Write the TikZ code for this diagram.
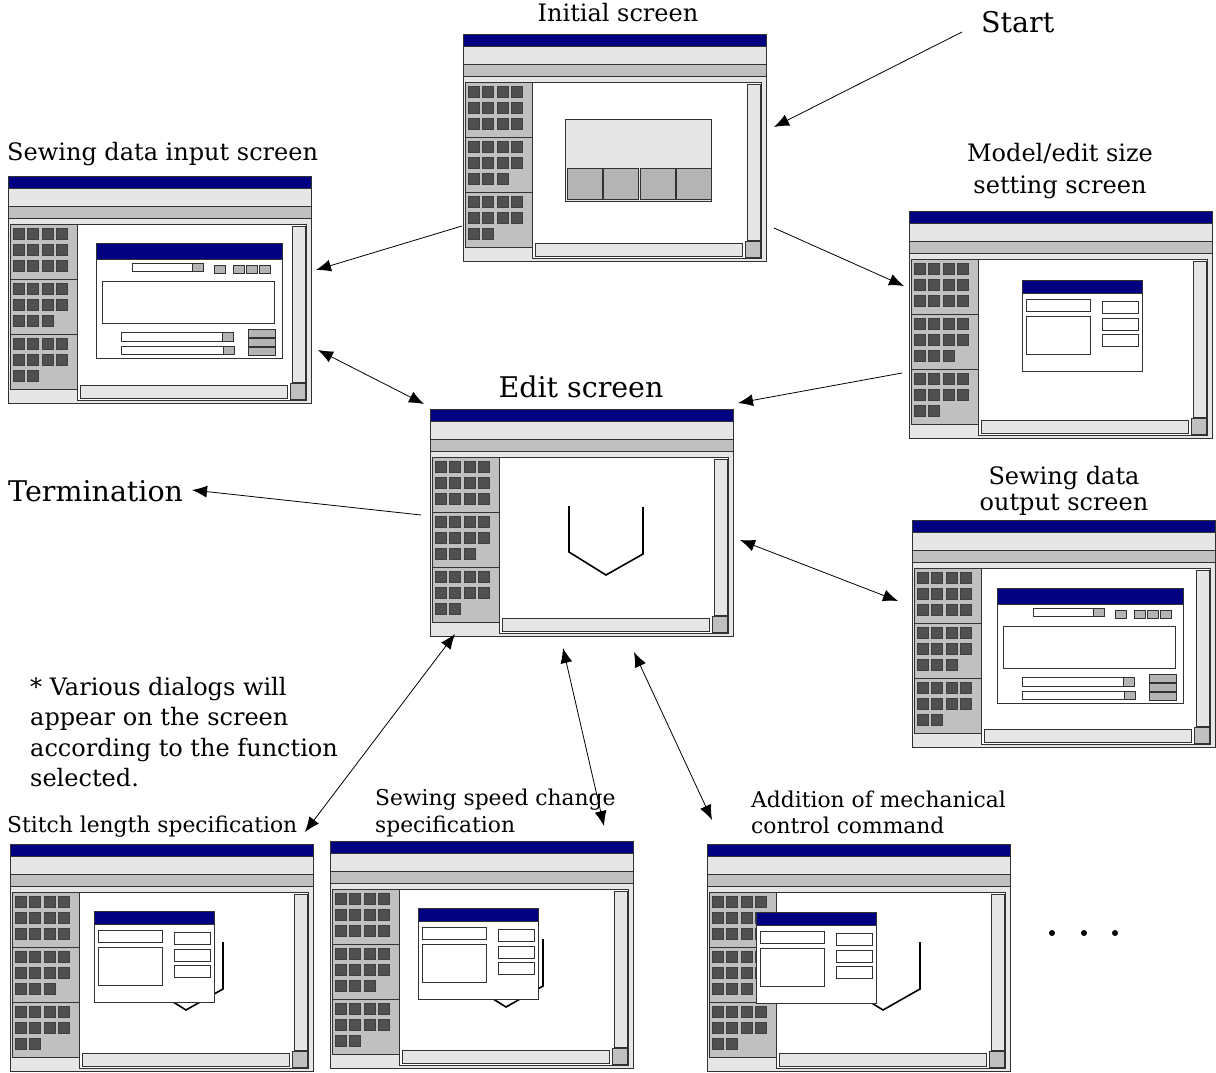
\documentclass[tikz,border=0pt]{standalone}
\usepackage{fontspec}
\setmainfont{DejaVu Serif}
\usepackage{xcolor}
\usepackage{tikz}
\usetikzlibrary{arrows.meta}

\definecolor{navy}{RGB}{0,0,128}
\definecolor{lightgr}{RGB}{230,230,230}
\definecolor{midgr}{RGB}{192,192,192}
\definecolor{knobgr}{RGB}{180,180,180}
\definecolor{padgr}{RGB}{80,80,80}
\definecolor{edgegr}{RGB}{50,50,50}

\tikzset{
  winedge/.style={draw=edgegr, line width=0.9pt},
  pad/.style={draw=black!75, line width=0.9pt, fill=padgr},
  seam/.style={draw=black, line width=1.6pt},
  flow/.style={line width=0.8pt, -{Latex[length=15pt,width=12pt]}},
  twoway/.style={line width=0.8pt, {Latex[length=15pt,width=12pt]}-{Latex[length=15pt,width=12pt]}},
  bigtext/.style={font=\fontsize{28.5}{32}\selectfont, inner sep=0pt},
  midtext/.style={font=\fontsize{24}{27}\selectfont, inner sep=0pt},
  smalltext/.style={font=\fontsize{21.8}{24}\selectfont, inner sep=0pt}
}

\newcommand{\screen}[3]{%
\begin{scope}[shift={(#1,#2)}]
\filldraw [winedge, fill=lightgr] (0,0) rectangle (303,227);
\filldraw [winedge, fill=navy] (0,0) rectangle (303,12);
\filldraw [winedge, fill=midgr] (0,30) rectangle (303,42);
\filldraw [winedge, fill=white] (69,48) rectangle (298,224);
\filldraw [winedge, fill=midgr] (2,48) rectangle (69,213);
\draw [winedge] (2,103) -- (69,103) (2,158) -- (69,158);
\foreach \s/\n in {48/4,103/3,158/2} {
  \foreach \r in {0,1}
    \foreach \c in {0,...,3}
      \filldraw [pad] ({5+14.6*\c},{\s+4+16.3*\r}) rectangle +(11,11);
  \foreach \c in {1,...,\n}
    \filldraw [pad] ({5+14.6*(\c-1)},{\s+36.6}) rectangle +(11,11);
}
\filldraw [winedge, fill=lightgr] (284,50) rectangle (297,206);
\filldraw [winedge, fill=midgr] (282,207) rectangle (297,223);
\filldraw [winedge, fill=lightgr] (72,209) rectangle (279,222);
#3
\end{scope}}

\newcommand{\formdlg}[2]{%
\begin{scope}[shift={(#1,#2)}]
\filldraw [winedge, fill=white] (0,0) rectangle (120,91);
\filldraw [winedge, fill=navy] (0,0) rectangle (120,13);
\draw [winedge] (4,19) rectangle (68,31) (4,36) rectangle (68,74)
  (80,21) rectangle (116,33) (80,38) rectangle (116,50) (80,54) rectangle (116,66);
\end{scope}}

\newcommand{\datadlg}[2]{%
\begin{scope}[shift={(#1,#2)}]
\filldraw [winedge, fill=white] (0,0) rectangle (186,115);
\filldraw [winedge, fill=navy] (0,0) rectangle (186,16);
\draw [winedge] (36,20.5) rectangle (107,28.5);
\filldraw [winedge, fill=knobgr] (96.5,20.5) rectangle (107,28.5);
\foreach \x in {118,137,150,163}
  \filldraw [winedge, fill=knobgr] (\x,22) rectangle +(11,8);
\draw [winedge] (6,38) rectangle (178,80);
\draw [winedge] (25,89) rectangle (137,98);
\filldraw [winedge, fill=knobgr] (126.5,89) rectangle (137,98);
\draw [winedge] (25,103.5) rectangle (138,111.5);
\filldraw [winedge, fill=knobgr] (127.5,103.5) rectangle (138,111.5);
\foreach \y in {86.5,95,104}
  \filldraw [winedge, fill=knobgr] (152,\y) rectangle +(27,8);
\end{scope}}

\newcommand{\cuff}{\draw [seam] (139,97) -- (139,143) -- (176,166) -- (213,145) -- (213,98);}

\begin{document}
\begin{tikzpicture}[x=1pt, y=-1pt]
\fill [white] (0,0) rectangle (1216,1073);
\useasboundingbox (0,0) rectangle (1216,1073);

\screen{463}{34}{%
  \filldraw [winedge, fill=lightgr] (102,85) rectangle (248,167);
  \foreach \x in {104,140,177,213}
    \filldraw [winedge, fill=knobgr] (\x,134) rectangle +(35,31);}
\screen{8}{176}{\datadlg{88}{67}}
\screen{430}{409}{\cuff}
\screen{909}{211}{\formdlg{113}{69}}
\screen{912}{520}{\datadlg{85}{68}}
\screen{10}{844}{\cuff \formdlg{84}{67}}
\screen{330}{841}{\cuff \formdlg{88}{67}}
\screen{707}{844}{\cuff \formdlg{49}{68}}

\node [midtext, anchor=base] (initLbl) at (618,22) {Initial screen};
\node [bigtext, anchor=base west] (startLbl) at (981,33) {Start};
\node [midtext, anchor=base west] (inputLbl) at (7,160) {Sewing data input screen};
\node [midtext, anchor=base] (modelLbl) at (1060,161) {Model/edit size};
\node [midtext, anchor=base] (modelLblB) at (1060,193) {setting screen};
\node [bigtext, anchor=base] (editLbl) at (581,397) {Edit screen};
\node [bigtext, anchor=base west] (termLbl) at (8,501) {Termination};
\node [midtext, anchor=base] (outLbl) at (1064,484) {Sewing data};
\node [midtext, anchor=base] (outLblB) at (1064,510) {output screen};
\node [midtext, anchor=base west] (noteA) at (30,695) {* Various dialogs will};
\node [midtext, anchor=base west] (noteB) at (30,725) {appear on the screen};
\node [midtext, anchor=base west] (noteC) at (30,756) {according to the function};
\node [midtext, anchor=base west] (noteD) at (30,786) {selected.};
\node [smalltext, anchor=base west] (stitchLbl) at (7,832) {Stitch length specification};
\node [smalltext, anchor=base west] (speedLbl) at (375,805) {Sewing speed change};
\node [smalltext, anchor=base west] (speedLblB) at (375,832) {specification};
\node [smalltext, anchor=base west] (addLbl) at (751,807) {Addition of mechanical};
\node [smalltext, anchor=base west] (addLblB) at (751,833) {control command};

\coordinate (startTail) at (962,32);
\coordinate (initIn) at (774,127);
\coordinate (initOutR) at (774,228);
\coordinate (modelIn) at (904,286);
\coordinate (initOutL) at (462,226);
\coordinate (inputIn) at (316,270);
\coordinate (inputEnd) at (318,350);
\coordinate (editNW) at (424,404);
\coordinate (modelOut) at (902,373);
\coordinate (editNE) at (738,403);
\coordinate (editW) at (421,515);
\coordinate (termIn) at (192,490);
\coordinate (editE) at (740,540);
\coordinate (outputIn) at (898,601);
\coordinate (editSW) at (455,634);
\coordinate (stitchIn) at (305,832);
\coordinate (editS) at (563,648);
\coordinate (speedIn) at (604,826);
\coordinate (editSE) at (634,652);
\coordinate (addIn) at (712,820);

\draw [flow] (startTail) -- (initIn);
\draw [flow] (initOutR) -- (modelIn);
\draw [flow] (initOutL) -- (inputIn);
\draw [twoway] (inputEnd) -- (editNW);
\draw [flow] (modelOut) -- (editNE);
\draw [flow] (editW) -- (termIn);
\draw [twoway] (editE) -- (outputIn);
\draw [twoway] (editSW) -- (stitchIn);
\draw [twoway] (editS) -- (speedIn);
\draw [twoway] (editSE) -- (addIn);

\fill (1052,933) circle (3pt) (1084,933) circle (3pt) (1115,933) circle (3pt);
\end{tikzpicture}
\end{document}
